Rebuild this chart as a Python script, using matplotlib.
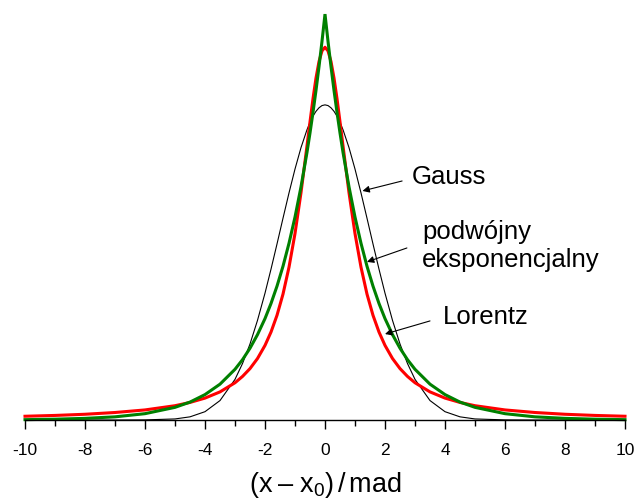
import matplotlib
matplotlib.use('Agg')
import matplotlib.pyplot as plt

plt.rcParams['font.family'] = ['Liberation Sans', 'DejaVu Sans']
plt.rcParams['mathtext.fontset'] = 'custom'
plt.rcParams['mathtext.rm'] = 'Liberation Sans'
plt.rcParams['mathtext.it'] = 'Liberation Sans'
plt.rcParams['axes.unicode_minus'] = False

# (x - x0)/mad grid and curve heights
x = [-10, -9, -8, -7, -6, -5, -4.5, -4, -3.5, -3, -2.75, -2.5, -2.25, -2, -1.8,
     -1.6, -1.4, -1.2, -1, -0.8, -0.6, -0.5, -0.4, -0.3, -0.2, -0.1, 0,
     0.1, 0.2, 0.3, 0.4, 0.5, 0.6, 0.8, 1, 1.2, 1.4, 1.6, 1.8, 2, 2.25, 2.5,
     2.75, 3, 3.5, 4, 4.5, 5, 6, 7, 8, 9, 10]

gauss = [0, 0, 0, 0, 0.0001, 0.0009, 0.0027, 0.0071, 0.0166, 0.0347, 0.0482,
         0.0649, 0.0851, 0.1083, 0.1288, 0.1503, 0.1723, 0.1939, 0.2143,
         0.2326, 0.2479, 0.2542, 0.2595, 0.2636, 0.2666, 0.2685, 0.2691,
         0.2685, 0.2666, 0.2636, 0.2595, 0.2542, 0.2479, 0.2326, 0.2143,
         0.1939, 0.1723, 0.1503, 0.1288, 0.1083, 0.0851, 0.0649, 0.0482,
         0.0347, 0.0166, 0.0071, 0.0027, 0.0009, 0.0001, 0, 0, 0, 0]

laplace = [0.0003, 0.0007, 0.0014, 0.0027, 0.0054, 0.0108, 0.0153, 0.0217,
           0.0306, 0.0433, 0.0515, 0.0613, 0.0729, 0.0866, 0.0995, 0.1143,
           0.1313, 0.1509, 0.1733, 0.1991, 0.2286, 0.2451, 0.2627, 0.2815,
           0.3017, 0.3234, 0.3466,
           0.3234, 0.3017, 0.2815, 0.2627, 0.2451, 0.2286, 0.1991, 0.1733,
           0.1509, 0.1313, 0.1143, 0.0995, 0.0866, 0.0729, 0.0613, 0.0515,
           0.0433, 0.0306, 0.0217, 0.0153, 0.0108, 0.0054, 0.0027, 0.0014,
           0.0007, 0.0003]

lorentz = [0.0032, 0.0039, 0.0049, 0.0064, 0.0086, 0.0122, 0.0150, 0.0187,
           0.0240, 0.0318, 0.0372, 0.0439, 0.0525, 0.0637, 0.0751, 0.0894,
           0.1075, 0.1305, 0.1592, 0.1941, 0.2341, 0.2546, 0.2744, 0.2920,
           0.3061, 0.3152, 0.3183,
           0.3152, 0.3061, 0.2920, 0.2744, 0.2546, 0.2341, 0.1941, 0.1592,
           0.1305, 0.1075, 0.0894, 0.0751, 0.0637, 0.0525, 0.0439, 0.0372,
           0.0318, 0.0240, 0.0187, 0.0150, 0.0122, 0.0086, 0.0064, 0.0049,
           0.0039, 0.0032]

fig = plt.figure(figsize=(6.39, 5.02), dpi=100)
ax = fig.add_axes([25/639, 81/502, 600/639, 421/502])

ax.plot(x, gauss, color='black', lw=0.8, clip_on=False)
ax.plot(x, lorentz, color='#ff0000', lw=2.2, clip_on=False)
ax.plot(x, laplace, color='#008000', lw=2.2, clip_on=False,
        solid_joinstyle='miter')

ax.set_xlim(-10, 10)
ax.set_ylim(0, 0.3595)
ax.set_xticks(range(-10, 11, 2))
ax.set_xticks(range(-9, 10, 2), minor=True)
ax.set_yticks([])
for s in ['left', 'right', 'top']:
    ax.spines[s].set_visible(False)
ax.spines['bottom'].set_linewidth(1.0)
ax.tick_params(axis='x', which='major', direction='out', length=6.5,
               width=1.0, labelsize=12.5, pad=9)
ax.tick_params(axis='x', which='minor', direction='out', length=4, width=1.0)

ax.set_xlabel(r'$\mathregular{(x\;–\;x_0)\,/\,mad}$', fontsize=19.5, labelpad=9)

arrow = dict(arrowstyle='-|>', color='black', lw=0.8,
             mutation_scale=10, shrinkA=0, shrinkB=0)
ax.annotate('', xy=(1.25, 0.1956), xytext=(2.57, 0.2041), arrowprops=arrow)
ax.text(2.9, 0.2085, 'Gauss', fontsize=18.5, va='center', ha='left')

ax.annotate('', xy=(1.4, 0.1350), xytext=(2.73, 0.1469), arrowprops=arrow)
ax.text(3.23, 0.1494, 'podwójny\neksponencjalny', fontsize=18.5,
        va='center', ha='left', linespacing=1.2)

ax.annotate('', xy=(2.0, 0.0734), xytext=(3.5, 0.0846), arrowprops=arrow)
ax.text(3.93, 0.0888, 'Lorentz', fontsize=18.5, va='center', ha='left')

fig.savefig('out.png', dpi=100)
